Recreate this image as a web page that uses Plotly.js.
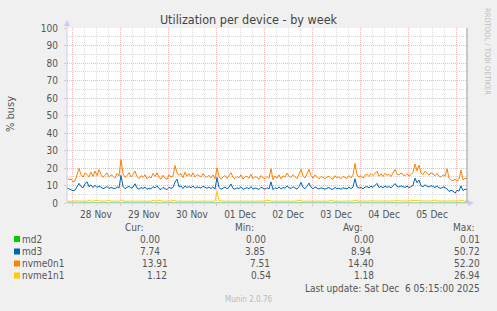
<!DOCTYPE html>
<html><head><meta charset="utf-8">
<script src="https://cdn.plot.ly/plotly-3.0.1.min.js"></script>
<style>html,body{margin:0;padding:0;background:#F0F0F0;}#chart{width:497px;height:311px;}</style>
</head><body><div id="chart"></div><script>
// ---- data ----
const startTime = '2025-11-27T21:30:00';   // first sample (hourly samples)
const stepHours = 1;
const seriesNames = ['md2','md3','nvme0n1','nvme1n1'];
const seriesColors = ['#00CC00','#0066B3','#FF8000','#FFCC00'];

const md2 = [
0,0,0,0,0,0,0,0,0,0,0,0,0,0,0,0,0,0,0,0,
0,0,0,0,0,0,0,0,0,0,0,0,0,0,0,0,0,0,0,0,
0,0,0,0,0,0,0,0,0,0,0,0,0,0,0,0,0,0,0,0,
0,0,0,0,0,0,0,0,0,0,0,0,0,0,0,0,0,0,0,0,
0,0,0,0,0,0,0,0,0,0,0,0,0,0,0,0,0,0,0,0,
0,0,0,0,0,0,0,0,0,0,0,0,0,0,0,0,0,0,0,0,
0,0,0,0,0,0,0,0,0,0,0,0,0,0,0,0,0,0,0,0,
0,0,0,0,0,0,0,0,0,0,0,0,0,0,0,0,0,0,0,0,
0,0,0,0,0,0,0,0,0,0,0,0,0,0,0,0,0,0,0,0,
0,0,0,0,0,0,0,0,0,0,0,0,0,0,0,0,0,0,0,0,
0];
const md3 = [
8.6,8.1,7.4,7.0,7.3,8.9,11.2,9.4,8.7,10.9,
12.1,9.3,10.4,8.8,10.2,8.9,9.6,9.1,8.2,8.7,
9.4,8.3,8.9,8.5,8.1,9.2,8.6,15.8,9.4,8.2,
8.7,9.6,8.4,9.1,11.0,8.6,7.9,8.8,8.3,9.1,
7.8,8.5,8.1,9.4,8.6,9.8,8.3,7.7,8.9,8.1,
7.6,9.0,8.4,8.8,11.9,13.6,9.2,9.7,8.3,9.8,
8.8,9.4,8.7,9.7,8.5,9.2,8.9,8.5,9.5,8.7,
8.4,9.1,8.2,9.3,7.9,14.6,8.8,7.8,8.6,9.1,
8.1,9.0,10.9,8.4,7.9,8.7,8.2,9.3,7.8,8.5,
8.8,8.1,9.4,7.9,8.6,8.3,7.7,9.0,8.2,7.9,
8.7,8.0,12.1,7.6,8.8,8.1,9.2,7.9,8.9,8.4,
9.8,8.7,8.3,9.3,8.6,7.9,9.4,11.8,8.9,8.2,
9.6,11.4,9.0,8.1,9.2,8.4,7.9,8.7,8.3,7.9,
8.5,8.8,8.0,7.8,8.9,8.2,8.5,7.9,8.7,8.3,
8.1,9.0,8.2,9.1,13.9,9.2,8.5,8.9,8.1,9.1,
9.4,8.6,9.6,8.9,9.8,11.2,8.8,9.5,8.7,9.7,
9.0,9.4,8.6,9.9,11.1,9.5,9.1,9.8,9.2,8.9,
9.6,8.8,9.3,10.1,14.2,11.6,13.1,9.8,9.3,10.4,
9.6,9.1,9.9,9.3,8.9,9.7,8.7,8.4,9.2,8.8,
8.1,6.6,7.2,6.9,5.6,7.3,6.8,9.8,7.1,7.9,
7.7];
const nvme0n1 = [
14.5,13.2,13.8,12.1,12.6,15.9,19.8,16.2,14.8,17.1,
16.3,14.9,17.6,15.2,18.3,15.6,19.1,16.4,14.7,15.8,
17.2,14.9,16.1,15.3,14.2,16.8,15.4,24.9,16.7,14.8,
15.6,17.4,14.9,16.3,18.2,15.1,13.9,15.7,14.6,16.2,
13.8,15.1,14.3,16.9,15.2,17.3,14.6,13.7,15.9,14.2,
13.5,16.1,14.8,15.4,21.4,17.2,15.8,16.9,14.5,17.6,
15.3,16.7,15.1,17.2,14.8,16.3,15.5,14.9,16.8,15.2,
14.6,15.9,14.3,16.1,13.8,20.1,15.2,13.6,14.9,15.7,
14.1,15.8,17.3,14.6,13.9,15.2,14.4,16.1,13.7,14.8,
15.3,14.2,16.4,13.8,15.1,14.6,13.5,15.7,14.3,13.9,
15.2,14.1,19.6,13.3,15.4,14.2,16.1,13.8,15.5,14.7,
17.1,15.3,14.6,16.2,15.1,13.9,16.4,19.2,15.6,14.3,
16.7,19.3,15.8,14.2,16.1,14.7,13.8,15.2,14.5,13.9,
14.8,15.3,14.1,13.7,15.6,14.4,14.9,13.8,15.2,14.6,
14.1,15.7,14.3,15.9,22.6,16.1,14.8,15.6,14.2,15.9,
16.4,15.1,16.8,15.6,17.2,18.1,15.3,16.6,15.2,16.9,
15.8,16.4,15.1,17.3,19.1,16.6,15.9,17.2,16.1,15.6,
16.8,15.4,16.2,17.6,22.3,18.4,21.6,17.1,16.3,18.2,
16.7,15.9,17.4,16.2,15.6,16.9,15.3,14.8,16.1,15.4,
19.6,14.2,13.1,12.8,13.6,12.5,13.4,18.9,13.2,14.1,
13.9];
const nvme1n1 = [
1.1,1.0,1.1,1.0,1.2,1.0,1.1,1.1,1.0,1.1,1.0,1.7,1.1,1.0,1.1,1.6,1.1,1.0,1.1,1.0,
1.1,1.6,1.0,1.1,1.0,1.1,1.0,1.8,1.1,1.0,1.1,1.0,1.1,1.0,1.1,1.1,1.0,1.1,1.0,1.1,
1.0,1.1,1.0,1.5,1.1,1.0,1.6,1.1,1.0,1.1,1.0,1.1,1.0,1.5,1.1,1.0,1.1,1.0,1.1,1.0,
1.1,1.0,1.1,1.0,1.1,1.0,1.1,1.0,1.1,1.0,1.1,1.0,1.1,1.0,1.2,6.6,1.3,1.0,1.1,1.0,
1.1,1.0,1.1,1.0,1.1,1.0,1.1,1.0,1.1,1.0,1.1,1.0,1.1,1.0,1.1,1.0,1.1,1.0,1.1,1.0,
1.2,1.5,1.1,1.0,1.1,1.2,1.0,1.1,1.0,1.1,1.2,1.1,1.0,1.1,1.0,1.1,1.6,1.1,1.0,1.1,
1.0,1.1,1.0,1.1,1.0,1.1,1.0,1.1,1.0,1.1,1.0,1.1,1.5,1.1,1.0,1.1,1.0,1.1,1.0,1.1,
1.0,1.1,1.0,1.1,1.6,1.1,1.0,1.1,1.0,1.1,1.2,1.1,1.2,1.1,1.2,1.3,1.2,1.1,1.2,1.1,
1.2,1.1,1.2,1.1,1.3,1.2,1.1,1.2,1.1,1.2,1.1,1.2,1.3,1.7,1.8,1.5,1.2,1.1,1.2,1.1,
1.2,1.1,1.2,1.3,1.7,1.2,1.1,1.2,1.1,1.2,1.1,1.2,1.1,1.0,1.1,1.2,1.1,1.5,1.1,1.0,
1.1];

const curVals = ['0.00','7.74','13.91','1.12'];
const minVals = ['0.00','3.85','7.51','0.54'];
const avgVals = ['0.00','8.94','14.40','1.18'];
const maxVals = ['0.01','50.72','52.20','26.94'];
const columnHeads = ['Cur:','Min:','Avg:','Max:'];
const titleText = 'Utilization per device - by week';
const yTitle = '% busy';
const lastUpdate = 'Last update: Sat Dec\u00a0\u00a06 05:15:00 2025';
const footer = 'Munin 2.0.76';
const sideText = 'RRDTOOL / TOBI OETIKER';
const xRange = ['2025-11-27 21:30', '2025-12-06 05:30'];

// ---- build time axis from sample grid ----
function pad(n){return (n<10?'0':'')+n;}
const t0 = Date.parse(startTime+'Z');
const times = md3.map((_,i)=>{
  const d = new Date(t0 + i*stepHours*3600000);
  return d.getUTCFullYear()+'-'+pad(d.getUTCMonth()+1)+'-'+pad(d.getUTCDate())+' '+pad(d.getUTCHours())+':'+pad(d.getUTCMinutes());
});

const FONT = 'DejaVu Sans Condensed, DejaVu Sans, sans-serif';
const TXT = '#555555';
const W=497,H=311,L=67,R=467,T=28,B=203;
const px = x => (x-L)/(R-L);
const py = y => (B-y)/(B-T);

const seriesData = [md2, md3, nvme0n1, nvme1n1];
const traces = seriesData.map((v,k)=>({
  type:'scatter', mode:'lines', x:times, y:v, name:seriesNames[k],
  line:{color:seriesColors[k], width:1}, hoverinfo:'skip'
}));

const ann = [];
function txt(text,x,y,opts){ann.push(Object.assign({text:text,xref:'paper',yref:'paper',x:px(x),y:py(y),showarrow:false,font:{family:FONT,size:10,color:TXT},xanchor:'left',yanchor:'middle'},opts||{}));}

txt(yTitle,10,114,{textangle:-90,xanchor:'center',font:{family:FONT,size:11,color:TXT}});
txt(sideText,488,51,{textangle:90,xanchor:'center',font:{family:FONT,size:7.5,color:'#BBBBBB'}});

const headRight=[146,256,365,477];
columnHeads.forEach((h,j)=>txt(h,headRight[j],227,{xanchor:'right'}));
const rowY=[239,251.5,263.5,275.5];
const curR=[162,162,170,169], minR=[268,267,272,273], avgR=[376,373,376,376], maxR=[482,482,482,482];
const shapes=[];
seriesNames.forEach((n,k)=>{
  txt(n,20,rowY[k]);
  txt(curVals[k],curR[k],rowY[k],{xanchor:'right'});
  txt(minVals[k],minR[k],rowY[k],{xanchor:'right'});
  txt(avgVals[k],avgR[k],rowY[k],{xanchor:'right'});
  txt(maxVals[k],maxR[k],rowY[k],{xanchor:'right'});
  shapes.push({type:'rect',xref:'paper',yref:'paper',x0:px(14),x1:px(20),y0:py(rowY[k]+3),y1:py(rowY[k]-3),fillcolor:seriesColors[k],line:{width:0}});
});
txt(lastUpdate,482,288,{xanchor:'right'});
txt(footer,248,299,{xanchor:'center',font:{family:FONT,size:8,color:'#BBBBBB'}});

// frame / axis decorations
shapes.push({type:'line',xref:'paper',yref:'paper',x0:1,x1:1,y0:0,y1:1,line:{color:'#999999',width:1}});
shapes.push({type:'line',xref:'paper',yref:'paper',x0:0,x1:0,y0:0,y1:py(23),line:{color:'#CCCCEE',width:1}});
shapes.push({type:'path',xref:'paper',yref:'paper',path:'M '+px(67)+' '+py(20)+' L '+px(64)+' '+py(26)+' L '+px(70)+' '+py(26)+' Z',fillcolor:'#CCCCEE',line:{width:0}});
shapes.push({type:'line',xref:'paper',yref:'paper',x0:0,x1:px(470),y0:0,y1:0,line:{color:'#CCCCEE',width:1}});
shapes.push({type:'path',xref:'paper',yref:'paper',path:'M '+px(474)+' '+py(203)+' L '+px(468)+' '+py(200)+' L '+px(468)+' '+py(206)+' Z',fillcolor:'#CCCCEE',line:{width:0}});

const MAJ = '#EDBBBB', MIN = '#DADADA';
const layout = {
  width:W,height:H,autosize:false,
  margin:{l:L,r:W-R,t:T,b:H-B,pad:0},
  paper_bgcolor:'#F0F0F0', plot_bgcolor:'#FFFFFF',
  showlegend:false,
  title:{text:titleText,x:0.5,xref:'container',xanchor:'center',y:1-20/H,yref:'container',yanchor:'middle',font:{family:FONT,size:12.5,color:'#444444'}},
  xaxis:{type:'date',range:xRange,tick0:'2025-11-28',dtick:86400000,tickformat:'%d %b',ticklabelmode:'period',
    showgrid:true,gridcolor:MAJ,griddash:'1px,1px',gridwidth:1,
    ticks:'outside',ticklen:2,tickcolor:MAJ,ticklabelstandoff:0,
    minor:{dtick:6*3600000,showgrid:true,gridcolor:MIN,griddash:'1px,1px',ticks:'outside',ticklen:2,tickcolor:MIN},
    tickfont:{family:FONT,size:10,color:TXT},zeroline:false,showline:false,fixedrange:true},
  yaxis:{range:[0,100],dtick:10,tick0:0,
    showgrid:true,gridcolor:MAJ,griddash:'1px,1px',gridwidth:1,
    ticks:'outside',ticklen:2,tickcolor:MAJ,ticklabelstandoff:4,
    minor:{dtick:5,showgrid:true,gridcolor:MIN,griddash:'1px,1px'},
    tickfont:{family:FONT,size:10,color:TXT},zeroline:false,showline:false,fixedrange:true},
  annotations:ann, shapes:shapes
};
Plotly.newPlot('chart',traces,layout,{staticPlot:true,displayModeBar:false});
</script></body></html>
